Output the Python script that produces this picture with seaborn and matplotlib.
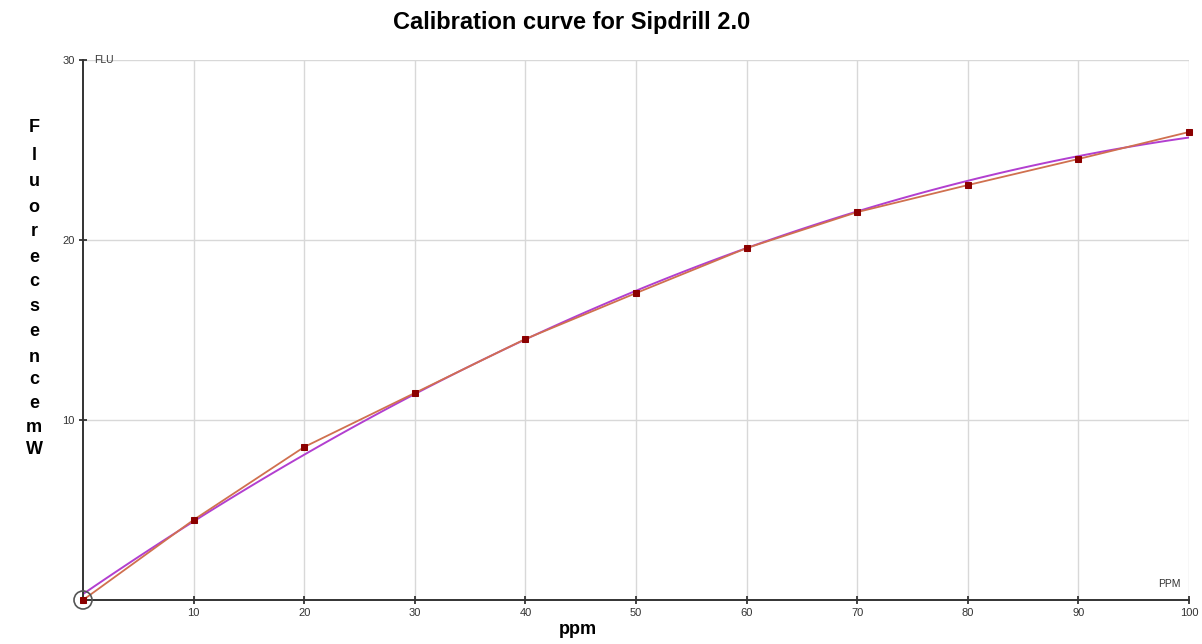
import matplotlib
matplotlib.use("Agg")
import matplotlib.pyplot as plt
import seaborn as sns
import pandas as pd
from matplotlib.patches import Ellipse

# Calibration standards (ppm) and measured fluorescence (mW)
ppm = [0, 10, 20, 30, 40, 50, 60, 70, 80, 90, 100]
fluorescence = [0.0, 4.45, 8.5, 11.5, 14.5, 17.05, 19.55, 21.55, 23.05, 24.5, 26.0]
x_ticks = [10, 20, 30, 40, 50, 60, 70, 80, 90, 100]
y_ticks = [10, 20, 30]

df = pd.DataFrame({"ppm": ppm, "flu": fluorescence})

sns.set_style("white", {"xtick.bottom": True, "ytick.left": True,
                        "text.color": "black", "axes.labelcolor": "black"})
plt.rcParams["font.family"] = ["Liberation Sans", "DejaVu Sans"]

fig = plt.figure(figsize=(12.02, 6.44), dpi=100)
ax = fig.add_axes([83 / 1202, 44 / 644, (1189 - 83) / 1202, (600 - 60) / 644])

# measured points joined by straight segments
sns.lineplot(data=df, x="ppm", y="flu", ax=ax, color="#d0704f", linewidth=1.3,
             marker="s", markersize=5, markerfacecolor="#8b0000",
             markeredgecolor="#8b0000", zorder=3, clip_on=False)
# second-order calibration fit
sns.regplot(data=df, x="ppm", y="flu", ax=ax, order=2, ci=None, scatter=False,
            truncate=True, line_kws={"color": "#b23fd0", "linewidth": 1.4, "zorder": 2})

ax.set_xlim(0, 100)
ax.set_ylim(0, 30)
ax.set_xticks(x_ticks)
ax.set_yticks(y_ticks)
ax.set_xticklabels([str(t) for t in x_ticks])
ax.set_yticklabels([str(t) for t in y_ticks])
ax.tick_params(axis="both", labelsize=8, labelcolor="#333333", length=6,
               width=1.3, color="#333333", direction="inout", pad=3)
ax.grid(True, color="#d8d8d8", linewidth=1.0)
ax.set_axisbelow(True)
for side in ["top", "right"]:
    ax.spines[side].set_visible(False)
for side in ["left", "bottom"]:
    ax.spines[side].set_color("#333333")
    ax.spines[side].set_linewidth(1.4)
ax.set_xlabel("")
ax.set_ylabel("")

# origin marker
ax.add_patch(Ellipse((0, 0), width=18 / 1106 * 100, height=18 / 540 * 30,
                     fill=False, edgecolor="#555555", linewidth=1.2,
                     clip_on=False, zorder=5))

# axis unit tags
ax.text(1.0, 30, "FLU", fontsize=7.5, color="#333333", va="center", ha="left")
ax.text(99.2, 0.9, "PPM", fontsize=7.5, color="#333333", va="center", ha="right")

fig.text(572 / 1202, 1 - 22 / 644, "Calibration curve for Sipdrill 2.0",
         ha="center", va="center", fontsize=17, fontweight="bold", color="black")
fig.text(578 / 1202, 1 - 630 / 644, "ppm", ha="center", va="center",
         fontsize=13, fontweight="bold", color="black")

letters = list("Fluorecsence") + ["m", "W"]
y_pos = [128, 155, 182, 207, 232, 257, 282, 307, 332, 357, 380, 403, 428, 449]
for ch, yp in zip(letters, y_pos):
    fig.text(34 / 1202, 1 - yp / 644, ch, ha="center", va="center",
             fontsize=13, fontweight="bold", color="black")

fig.savefig("out.png", dpi=100)
